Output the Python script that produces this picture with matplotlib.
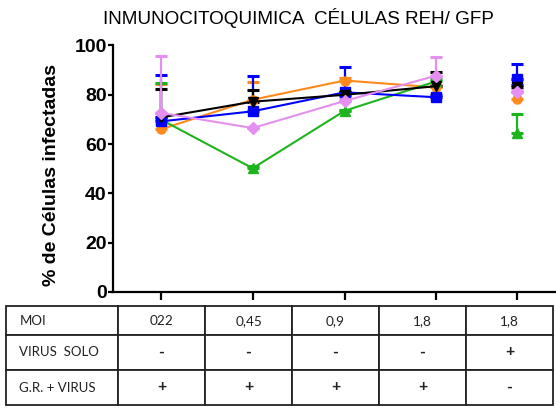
import matplotlib
matplotlib.use("Agg")
import matplotlib.pyplot as plt
import numpy as np

# ---- data ----
x_main = [0, 1, 2, 3]
series_names = ["orange", "green", "blue", "black", "violet"]
colors = {"orange": "#FF8A1C", "green": "#1DB51D", "blue": "#0000FF",
          "black": "#000000", "violet": "#E58FF0"}
markers = {"orange": "o", "green": "^", "blue": "s", "black": "v", "violet": "D"}
msizes = {"orange": 6.5, "green": 7, "blue": 6.5, "black": 6.5, "violet": 6}

means_main = {
    "orange": [66.0, 78.0, 85.8, 83.0],
    "green":  [70.0, 50.2, 73.5, 85.5],
    "blue":   [69.2, 73.3, 81.0, 79.0],
    "black":  [70.8, 77.2, 80.0, 83.5],
    "violet": [72.7, 66.5, 77.5, 87.8],
}
upper_main = {
    "orange": [84.5, 85.3, 87.0, 84.0],
    "green":  [84.6, 51.0, 74.0, 86.5],
    "blue":   [88.0, 87.6, 91.4, 80.0],
    "black":  [82.2, 82.0, 81.0, 89.4],
    "violet": [95.7, 67.0, 78.5, 95.5],
}
means_solo = {"orange": 78.2, "green": 64.5, "blue": 86.5, "black": 83.0, "violet": 81.3}
upper_solo = {"orange": 86.6, "green": 72.2, "blue": 92.4, "black": 84.0, "violet": 82.0}

yticks = [0, 20, 40, 60, 80, 100]
title = "INMUNOCITOQUIMICA  CÉLULAS REH/ GFP"
ylabel = "% de Células infectadas"

table_rows = [
    ["MOI", "022", "0,45", "0,9", "1,8", "1,8"],
    ["VIRUS  SOLO", "-", "-", "-", "-", "+"],
    ["G.R. + VIRUS", "+", "+", "+", "+", "-"],
]

# ---- figure ----
W, H = 556, 409
fig = plt.figure(figsize=(W / 100, H / 100), dpi=100)
fig.patch.set_facecolor("white")

ytop, ybot = 45.5, 292
ax = fig.add_axes([113 / W, 1 - ybot / H, (453 - 113) / W, (ybot - ytop) / H])
ax2 = fig.add_axes([455.5 / W, 1 - ybot / H, (556 - 455.5) / W, (ybot - ytop) / H])

for a in (ax, ax2):
    a.set_ylim(0, 100)
    a.set_facecolor("none")
    for s in ("top", "right"):
        a.spines[s].set_visible(False)
    a.spines["bottom"].set_linewidth(1.6)
    a.spines["left"].set_linewidth(1.6)
    a.tick_params(axis="x", length=5.5, width=1.6, labelbottom=False)

ax.set_xlim(-0.52, 3.18)
ax2.set_xlim(-0.665, 0.43)
ax.set_xticks(x_main)
ax2.set_xticks([0])
ax2.spines["left"].set_visible(False)
ax2.tick_params(axis="y", left=False, labelleft=False)

ax.set_yticks(yticks)
ax.tick_params(axis="y", length=3.5, width=1.6, pad=1)
for lab in ax.get_yticklabels():
    lab.set_fontfamily("Liberation Sans")
    lab.set_fontweight("bold")
    lab.set_fontsize(14)

for name in series_names:
    c = colors[name]
    m = np.array(means_main[name])
    up = np.array(upper_main[name]) - m
    ax.errorbar(x_main, m, yerr=[np.zeros_like(up), up], color=c, lw=1.5,
                marker=markers[name], ms=msizes[name], mec=c, mfc=c,
                elinewidth=1.6, capsize=4.5, capthick=2.2, clip_on=False)
    ms = means_solo[name]
    ax2.errorbar([0], [ms], yerr=[[0], [upper_solo[name] - ms]], color=c,
                 marker=markers[name], ms=msizes[name], mec=c, mfc=c, ls="none",
                 elinewidth=1.6, capsize=4.5, capthick=2.2, clip_on=False)

fig.text(298 / W, 1 - 18 / H, title, ha="center", va="center",
         fontsize=13.6, family="Liberation Sans")
fig.text(52 / W, 1 - 175 / H, ylabel, ha="center", va="center", rotation=90,
         fontsize=14, fontweight="bold", family="Liberation Sans")

# ---- table ----
tl, tr, tt, tb = 6, 553, 306.5, 405
tax = fig.add_axes([tl / W, 1 - tb / H, (tr - tl) / W, (tb - tt) / H])
tax.axis("off")
colw = [112, 87, 87, 87, 87, 87]
rowh = [28.5, 35, 35]
tbl = tax.table(cellText=table_rows, bbox=[0, 0, 1, 1], cellLoc="center",
                colWidths=[w / sum(colw) for w in colw])
tbl.auto_set_font_size(False)
for (r, c), cell in tbl.get_celld().items():
    cell.set_height(rowh[r] / sum(rowh))
    cell.set_linewidth(1.3)
    cell.set_edgecolor("#222222")
    t = cell.get_text()
    t.set_fontfamily("Lato")
    t.set_color("#222222")
    if c == 0:
        t.set_ha("left")
        cell.PAD = 0.12
        t.set_fontsize(9.5)
    else:
        if r == 0:
            t.set_fontsize(9.8)
        else:
            t.set_fontsize(11.5)
            t.set_fontweight("bold")

fig.savefig("out.png", dpi=100, facecolor="white")
